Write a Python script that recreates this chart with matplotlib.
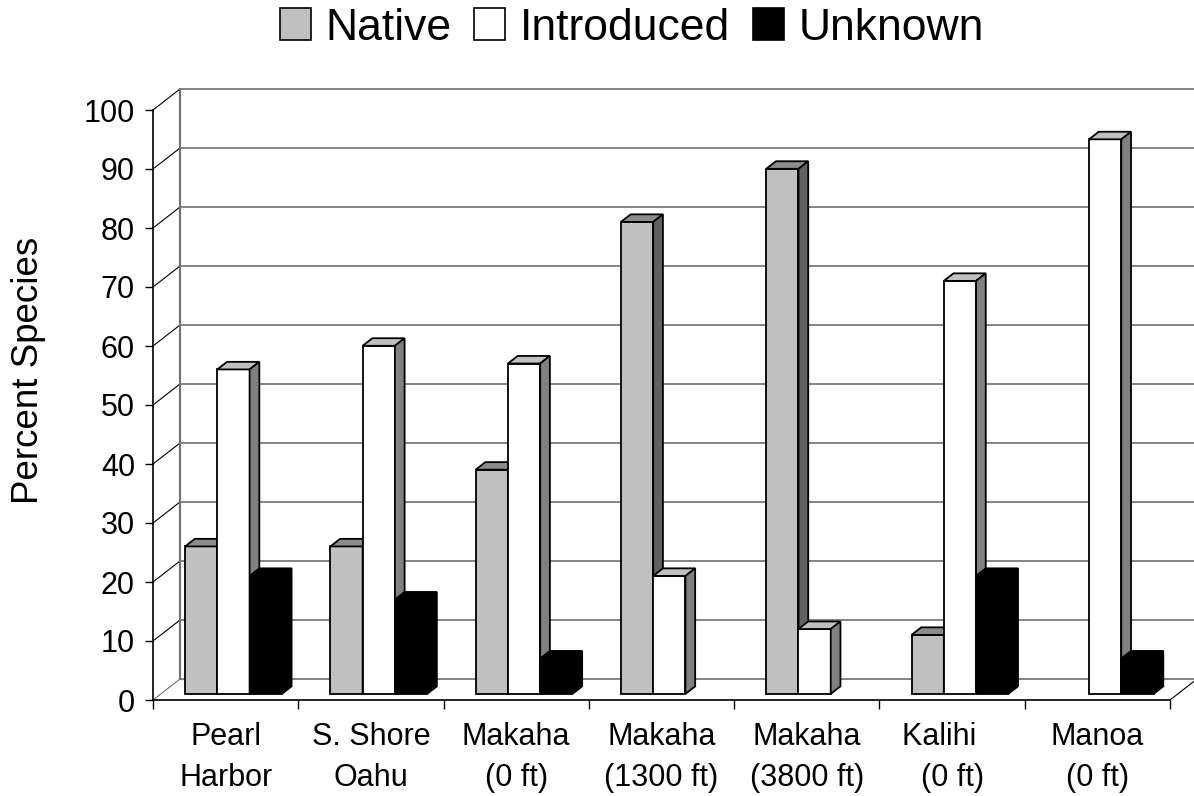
import numpy as np
import matplotlib
matplotlib.use("Agg")
import matplotlib.pyplot as plt
from matplotlib.patches import Polygon, Patch

plt.rcParams.update({"font.family": ["Liberation Sans", "DejaVu Sans"]})

# data
sites = ["Pearl\nHarbor", "S. Shore\nOahu", "Makaha\n(0 ft)", "Makaha\n(1300 ft)",
         "Makaha\n(3800 ft)", "Kalihi   \n(0 ft)", "Manoa\n(0 ft)"]
series = ["Native", "Introduced", "Unknown"]
native = [25, 25, 38, 80, 89, 10, 0]
introduced = [55, 59, 56, 20, 11, 70, 94]
unknown = [20, 16, 6, 0, 0, 20, 6]
yticks = list(range(0, 101, 10))

# face colours: front, top, side
FACES = {
    "Native": ("#c0c0c0", "#8c8c8c", "#606060"),
    "Introduced": ("#ffffff", "#c0c0c0", "#808080"),
    "Unknown": ("#000000", "#000000", "#000000"),
}

W, H = 1194, 796
fig = plt.figure(figsize=(W / 100, H / 100), dpi=100)
# front plot area in pixels: x 153..1170, y 110..700
ax = fig.add_axes([153 / W, (H - 700) / H, (1170 - 153) / W, (700 - 110) / H])
n = len(sites)
ax.set_xlim(0, n)
ax.set_ylim(0, 100)

# depth of the 3-D box in data units
DX = 27 / ((1170 - 153) / n)
DY = 21 / ((700 - 110) / 100)
F0, F1 = 0.29, 0.65   # bar front / back depth fraction
BW = 0.222            # bar width in category units

wall = "#707070"
# back wall gridlines and left wall diagonals
for v in yticks:
    ax.plot([DX, n + DX], [v + DY, v + DY], color=wall, lw=1.2, zorder=1, clip_on=False)
    ax.plot([0, DX], [v, v + DY], color="black" if v else wall, lw=0.8, zorder=1, clip_on=False)
ax.plot([DX, DX], [DY, 100 + DY], color=wall, lw=1.5, zorder=1, clip_on=False)
ax.plot([n, n + DX], [0, DY], color="black", lw=0.8, zorder=1, clip_on=False)

values = {"Native": native, "Introduced": introduced, "Unknown": unknown}
z = 3.0
for i in range(n):
    x0 = i + (1 - 3 * BW) / 2 + F0 * DX
    for j, name in enumerate(series):
        v = values[name][i]
        z += 0.01
        if v <= 0:
            continue
        front, top, side = FACES[name]
        xl = x0 + j * BW
        xr = xl + BW
        yb = F0 * DY
        yt = v + F0 * DY
        ddx = (F1 - F0) * DX
        ddy = (F1 - F0) * DY
        ax.bar(xl, v, width=BW, bottom=yb, align="edge", color=front,
               edgecolor="black", linewidth=1.3, zorder=z, clip_on=False)
        ax.add_patch(Polygon([(xl, yt), (xr, yt), (xr + ddx, yt + ddy), (xl + ddx, yt + ddy)],
                             closed=True, facecolor=top, edgecolor="black", lw=1.3,
                             zorder=z, clip_on=False))
        ax.add_patch(Polygon([(xr, yb), (xr + ddx, yb + ddy), (xr + ddx, yt + ddy), (xr, yt)],
                             closed=True, facecolor=side, edgecolor="black", lw=1.3,
                             zorder=z, clip_on=False))

# axes styling
for s in ["top", "right"]:
    ax.spines[s].set_visible(False)
for s in ["left", "bottom"]:
    ax.spines[s].set_linewidth(1.2)
ax.set_yticks(yticks)
ax.tick_params(axis="y", length=6, width=1.0, pad=7, labelsize=22)
ax.set_xticks(range(n + 1))
ax.set_xticklabels([])
ax.tick_params(axis="x", which="major", length=6.5, width=1.0)
ax.set_xticks(np.arange(n) + 0.5, minor=True)
ax.set_xticklabels(sites, minor=True, fontsize=22, linespacing=1.45)
ax.tick_params(axis="x", which="minor", length=0, pad=16)
ax.set_ylabel("Percent Species", fontsize=26.5)
ax.yaxis.set_label_coords((46 - 153) / 1017, (700 - 370) / 590)

handles = [Patch(facecolor=FACES[s][0], edgecolor="black", lw=1.2, label=s) for s in series]
fig.legend(handles=handles, loc="center", bbox_to_anchor=(632 / W, 1 - 28 / H), ncol=3,
           frameon=False, fontsize=32,
           handlelength=0.7, handleheight=0.7, handletextpad=0.34, columnspacing=0.5,
           borderaxespad=0)

fig.savefig("out.png", dpi=100, facecolor="white")
